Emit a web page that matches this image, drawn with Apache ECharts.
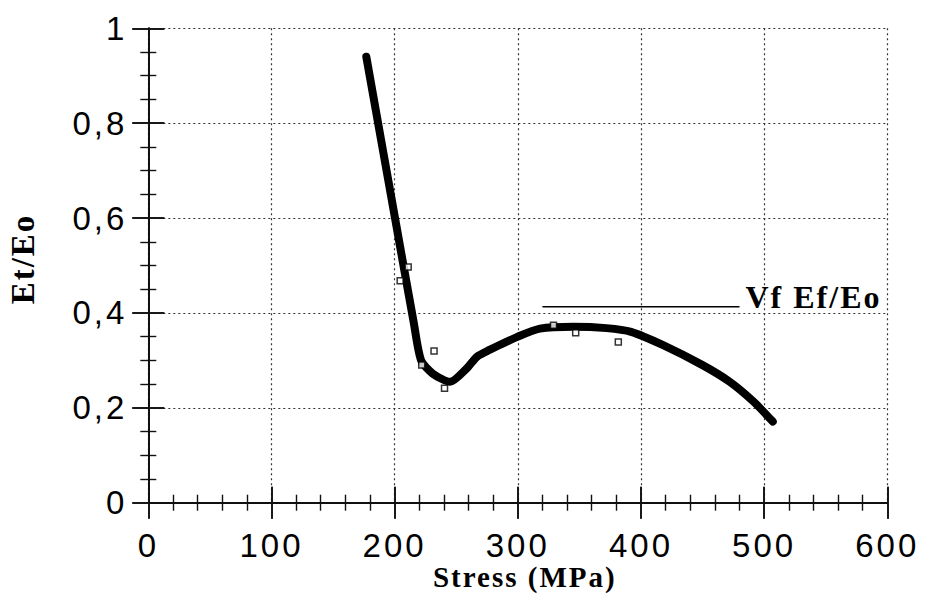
<!DOCTYPE html>
<html><head><meta charset="utf-8">
<script src="https://cdn.jsdelivr.net/npm/echarts@6/dist/echarts.min.js"></script>
<style>
html,body{margin:0;padding:0;background:#fff;}
#chart{width:926px;height:593px;}
#chart text[style*="Liberation Sans"]{letter-spacing:3px;}
#chart text[style*="Liberation Serif"]{letter-spacing:2px;}
</style></head><body><div id="chart"></div>
<script>
// ---- data ----
const xTickValues = [0, 100, 200, 300, 400, 500, 600];
const yTickLabels = ['0', '0,2', '0,4', '0,6', '0,8', '1'];

const curveX = [177, 200.3, 215.5, 221.5, 231, 245, 258.5, 267, 277, 300, 318, 345, 372, 392, 418, 450, 472, 491, 507];
const curveY = [0.94, 0.60, 0.38, 0.30, 0.272, 0.255, 0.283, 0.308, 0.322, 0.350, 0.367, 0.371, 0.368, 0.360, 0.332, 0.290, 0.255, 0.214, 0.171];

const markerX = [204.5, 211, 222, 232, 240.5, 329, 347, 381.6];
const markerY = [0.468, 0.497, 0.29, 0.32, 0.241, 0.374, 0.358, 0.339];

const refLineX = [320, 480];
const refLineY = [0.413, 0.413];
const refLabel = 'Vf Ef/Eo';

const xName = 'Stress (MPa)';
const yName = 'Et/Eo';

// ---- chart ----
const chart = echarts.init(document.getElementById('chart'), null, {renderer: 'svg'});
const ink = '#111';
const axLine = {show: true, lineStyle: {color: ink, width: 1.6}};
const sansLbl = {fontFamily: 'Liberation Sans', fontSize: 33, color: '#000'};

function xAxisDef(pos, inside, primary) {
  return {
    type: 'value', position: pos, min: 0, max: 600, interval: 100,
    axisLine: axLine,
    axisTick: {show: true, inside: inside, length: 16, lineStyle: {color: ink, width: 1.6}},
    minorTick: {show: inside, splitNumber: 5, length: 8, lineStyle: {color: ink, width: 1.4}},
    axisLabel: primary ? Object.assign({show: true, margin: 26, formatter: v => String(v)}, sansLbl) : {show: false},
    splitLine: primary ? {show: true, lineStyle: {color: '#333', width: 1.2, type: [2, 3]}} : {show: false},
    name: primary ? xName : '',
    nameLocation: 'middle', nameGap: 59, nameMoveOverlap: false,
    nameTextStyle: {fontFamily: 'Liberation Serif', fontWeight: 'bold', fontSize: 29, lineHeight: 30, color: '#000', padding: [0, 0, 0, 14]}
  };
}
function yAxisDef(pos, inside, primary) {
  return {
    type: 'value', position: pos, min: 0, max: 1, interval: 0.2,
    axisLine: axLine,
    axisTick: {show: true, inside: inside, length: 16, lineStyle: {color: ink, width: 1.6}},
    minorTick: {show: inside, splitNumber: 4, length: 8, lineStyle: {color: ink, width: 1.4}},
    axisLabel: primary ? Object.assign({show: true, margin: 21, formatter: v => yTickLabels[Math.round(v / 0.2)]}, sansLbl) : {show: false},
    splitLine: primary ? {show: true, lineStyle: {color: '#333', width: 1.2, type: [2, 3]}} : {show: false},
    name: primary ? yName : '',
    nameLocation: 'middle', nameGap: 109, nameRotate: 90, nameMoveOverlap: false,
    nameTextStyle: {fontFamily: 'Liberation Serif', fontWeight: 'bold', fontSize: 33, color: '#000', padding: [0, 0, 0, 13]}
  };
}

const option = {
  animation: false,
  backgroundColor: '#fff',
  grid: {left: 148.3, right: 38.7, top: 28.3, bottom: 90.3, containLabel: false, outerBoundsMode: 'none'},
  xAxis: [xAxisDef('bottom', false, true), xAxisDef('bottom', true, false), xAxisDef('top', false, false), xAxisDef('top', true, false)],
  yAxis: [yAxisDef('left', false, true), yAxisDef('left', true, false), yAxisDef('right', false, false), yAxisDef('right', true, false)],
  series: [
    {
      type: 'line', xAxisIndex: 0, yAxisIndex: 0,
      data: curveX.map((x, i) => [x, curveY[i]]),
      smooth: 0.25, symbol: 'none',
      lineStyle: {color: '#000', width: 8, cap: 'round', join: 'round'},
      z: 3
    },
    {
      type: 'scatter', xAxisIndex: 0, yAxisIndex: 0,
      data: markerX.map((x, i) => [x, markerY[i]]),
      symbol: 'rect', symbolSize: 6,
      itemStyle: {color: '#fff', borderColor: '#000', borderWidth: 1.5},
      z: 5
    },
    {
      type: 'line', xAxisIndex: 0, yAxisIndex: 0,
      data: refLineX.map((x, i) => [x, refLineY[i]]),
      symbol: 'none',
      lineStyle: {color: '#000', width: 1.5},
      endLabel: {show: true, formatter: refLabel, distance: 6, offset: [0, -10],
        fontFamily: 'Liberation Serif', fontWeight: 'bold', fontSize: 32, color: '#000'},
      z: 4
    }
  ]
};
chart.setOption(option);
</script></body></html>
